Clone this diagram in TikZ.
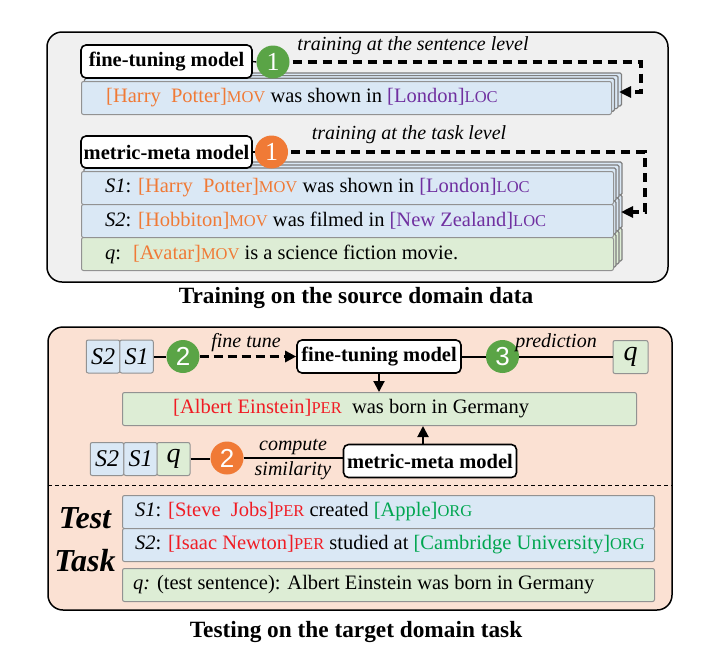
\documentclass[tikz,border=0pt]{standalone}
\usepackage{fontspec}
\setmainfont{Liberation Serif}
\newfontfamily\sansdig{Liberation Sans}
\usetikzlibrary{arrows.meta,calc}
\definecolor{panelgray}{HTML}{F0F0F0}
\definecolor{peach}{HTML}{FBE1D3}
\definecolor{rowblue}{HTML}{DAE8F5}
\definecolor{rowgreen}{HTML}{DDEDD5}
\definecolor{cgreen}{HTML}{5AA446}
\definecolor{corange}{HTML}{F07A36}
\definecolor{torange}{HTML}{F07A36}
\definecolor{tpurple}{HTML}{7030A0}
\definecolor{tred}{HTML}{F01C24}
\definecolor{tgreen}{HTML}{00A650}
\definecolor{rowborder}{HTML}{929292}
\definecolor{layerborder}{HTML}{7E7E7E}
\newcommand\tg[1]{{\fontsize{16.5}{18}\selectfont #1}}
\newcommand\mov[1]{\textcolor{torange}{[#1]\tg{MOV}}}
\newcommand\loc[1]{\textcolor{tpurple}{[#1]\tg{LOC}}}
\newcommand\per[1]{\textcolor{tred}{[#1]\tg{PER}}}
\newcommand\org[1]{\textcolor{tgreen}{[#1]\tg{ORG}}}
\begin{document}
\begin{tikzpicture}[x=1pt,y=-1pt,
  model/.style={draw, line width=1.6pt, rounded corners=5pt, fill=white,
    font=\bfseries\fontsize{20.5}{24}\selectfont, inner sep=0pt},
  rowbox/.style={draw=rowborder, line width=1pt, rounded corners=2pt,
    minimum height=33pt, anchor=north west, inner sep=0pt},
  rowtext/.style={anchor=west, inner sep=0pt, font=\fontsize{20.5}{25}\selectfont},
  layerbox/.style={draw=layerborder, line width=1.2pt, rounded corners=1.5pt},
  circ/.style={circle, minimum size=33pt, inner sep=0pt, text=white},
  sbox/.style={draw=rowborder, line width=1pt, rounded corners=2pt,
    minimum width=33.5pt, minimum height=33pt, inner sep=0pt,
    font=\itshape\fontsize{24}{24}\selectfont},
  dashline/.style={line width=3.5pt, dash pattern=on 9pt off 6pt},
  lbl/.style={font=\itshape\fontsize{20}{22}\selectfont, inner sep=0pt},
  captext/.style={font=\bfseries\fontsize{23.3}{28}\selectfont, inner sep=0pt},
  arrowtip/.style={-{Triangle[length=12pt,width=11pt]}},
  smalltip/.style={-{Triangle[length=11pt,width=11pt]}}
]
\useasboundingbox (0,0) rectangle (711,665);

% ---------- top panel ----------
\draw[line width=1.5pt, fill=panelgray, rounded corners=15pt] (47,32) rectangle (668,282);

% stack 1 layers
\foreach \k in {3,2,1}
  \draw[layerbox, fill=rowblue] ({81+3.5*\k},{81-2.7*\k}) rectangle ++(530,33);
\node[rowbox, fill=rowblue, minimum width=530pt] (r1) at (81,81) {};
\node[rowtext] (r1t) at ($(r1.west)+(25,0)$) {\mov{Harry~ Potter} was shown in \loc{London}};

\node[model, minimum width=171pt, minimum height=33pt] (ft1) at (166.5,61.5) {fine-tuning model};
\node[circ, fill=cgreen, font=\fontsize{26}{26}\selectfont] (c1) at (273,62) {1};
\draw[line width=1.4pt] (ft1.east) -- (c1.west);
\coordinate (a1) at (619,92);
\draw[dashline, arrowtip] ($(c1.east)+(3,0)$) -- (641,62) -- (641,92) -- (a1);
\node[lbl] (l1) at (413,46) {training at the sentence level};

% stack 2 layers
\foreach \k in {3,2,1}{
  \draw[layerbox, fill=rowblue] ({81+3*\k},{171-3*\k}) rectangle ++(532,33);
  \draw[layerbox, fill=rowblue] ({81+3*\k},{204-3*\k}) rectangle ++(532,33);
  \draw[layerbox, fill=rowgreen] ({81+3*\k},{237-3*\k}) rectangle ++(532,33);
}
\node[rowbox, fill=rowblue, minimum width=532pt] (s1) at (81,171) {};
\node[rowbox, fill=rowblue, minimum width=532pt] (s2) at (81,204) {};
\node[rowbox, fill=rowgreen, minimum width=532pt] (sq) at (81,237) {};
\node[rowtext] (s1t) at ($(s1.west)+(24,0)$) {\textit{S1}: \mov{Harry~ Potter} was shown in \loc{London}};
\node[rowtext] (s2t) at ($(s2.west)+(24,0)$) {\textit{S2}: \mov{Hobbiton} was filmed in \loc{New Zealand}};
\node[rowtext] (sqt) at ($(sq.west)+(24,0)$) {\textit{q}:~ \mov{Avatar} is a science fiction movie.};

\node[model, minimum width=171pt, minimum height=32pt] (mm1) at (166.5,152) {metric-meta model};
\node[circ, fill=corange, font=\fontsize{26}{26}\selectfont] (c1o) at (271.5,152) {1};
\draw[line width=1.4pt] (mm1.east) -- (c1o.west);
\coordinate (a2) at (621,212);
\draw[dashline, arrowtip] ($(c1o.east)+(3,0)$) -- (645,152) -- (645,212) -- (a2);
\node[lbl] (l2) at (409,135) {training at the task level};

\node[captext] (cap1) at (356,298) {Training on the source domain data};

% ---------- bottom panel ----------
\draw[line width=1.5pt, fill=peach, rounded corners=15pt] (48,327) rectangle (672,610);
\draw[line width=0.9pt, dash pattern=on 4pt off 3pt] (48,485) -- (672,485);

\node[sbox, fill=rowblue] (S2a) at (103,356.5) {S2};
\node[sbox, fill=rowblue] (S1a) at (136.5,356.5) {S1};
\node[circ, fill=cgreen, font=\sansdig\fontsize{26}{26}\selectfont] (c2g) at (183,356.5) {2};
\node[model, minimum width=164pt, minimum height=33pt] (ft2) at (379,356.5) {fine-tuning model};
\node[circ, fill=cgreen, font=\sansdig\fontsize{26}{26}\selectfont] (c3) at (502.5,356.5) {3};
\node[sbox, fill=rowgreen, minimum width=35pt, font=\itshape\fontsize{28}{28}\selectfont] (qa) at (630.5,357) {q};
\draw[line width=2pt] (S1a.east) -- (c2g.west);
\draw[line width=3pt, dash pattern=on 9pt off 5pt, smalltip] (c2g.east) -- (ft2.west);
\draw[line width=2pt] (ft2.east) -- (c3.west);
\draw[line width=2pt] (c3.east) -- (c3.east -| qa.west);
\node[lbl] (lft) at (246,343) {fine tune};
\node[lbl] (lpr) at (556,343) {prediction};

\node[rowbox, fill=rowgreen, minimum width=514pt] (sent) at (122,392) {};
\node[rowtext] (sentt) at ($(sent.west)+(51,0)$) {\per{Albert Einstein}~ was born in Germany};
\draw[line width=2pt, smalltip] (ft2.south) -- (ft2.south |- sent.north);

\node[sbox, fill=rowblue] (S2b) at (107,459) {S2};
\node[sbox, fill=rowblue] (S1b) at (140.5,459) {S1};
\node[sbox, fill=rowgreen, minimum width=33pt, font=\itshape\fontsize{28}{28}\selectfont] (qb) at (173.5,459) {q};
\node[circ, fill=corange, font=\sansdig\fontsize{26}{26}\selectfont] (c2o) at (227,458) {2};
\node[model, minimum width=173pt, minimum height=33pt] (mm2) at (430,461) {metric-meta model};
\draw[line width=2pt] (qb.east) -- (qb.east -| c2o.west);
\draw[line width=2pt] (c2o.east) -- (c2o.east -| mm2.west);
\node[lbl] (lco) at (293,447) {compute};
\node[lbl] (lsi) at (293,471) {similarity};
\coordinate (m2t) at ($(mm2.north)+(-7,0)$);
\draw[line width=2pt, smalltip] (m2t) -- (m2t |- sent.south);

\node[font=\bfseries\itshape\fontsize{32}{43}\selectfont, align=center, inner sep=0pt] (tt) at (85,540) {Test\\Task};

\node[rowbox, fill=rowblue, minimum width=532pt] (b1) at (122,495) {};
\node[rowbox, fill=rowblue, minimum width=532pt] (b2) at (122,528) {};
\node[rowbox, fill=rowgreen, minimum width=532pt] (bq) at (122,568) {};
\node[rowtext] (b1t) at ($(b1.west)+(13,0)$) {\textit{S1}: \per{Steve~ Jobs} created \org{Apple}};
\node[rowtext] (b2t) at ($(b2.west)+(13,0)$) {\textit{S2}: \per{Isaac Newton} studied at \org{Cambridge University}};
\node[rowtext] (bqt) at ($(bq.west)+(11,0)$) {\textit{q:} (test sentence): Albert Einstein was born in Germany};

\node[captext] (cap2) at (356,632) {Testing on the target domain task};
\end{tikzpicture}
\end{document}
